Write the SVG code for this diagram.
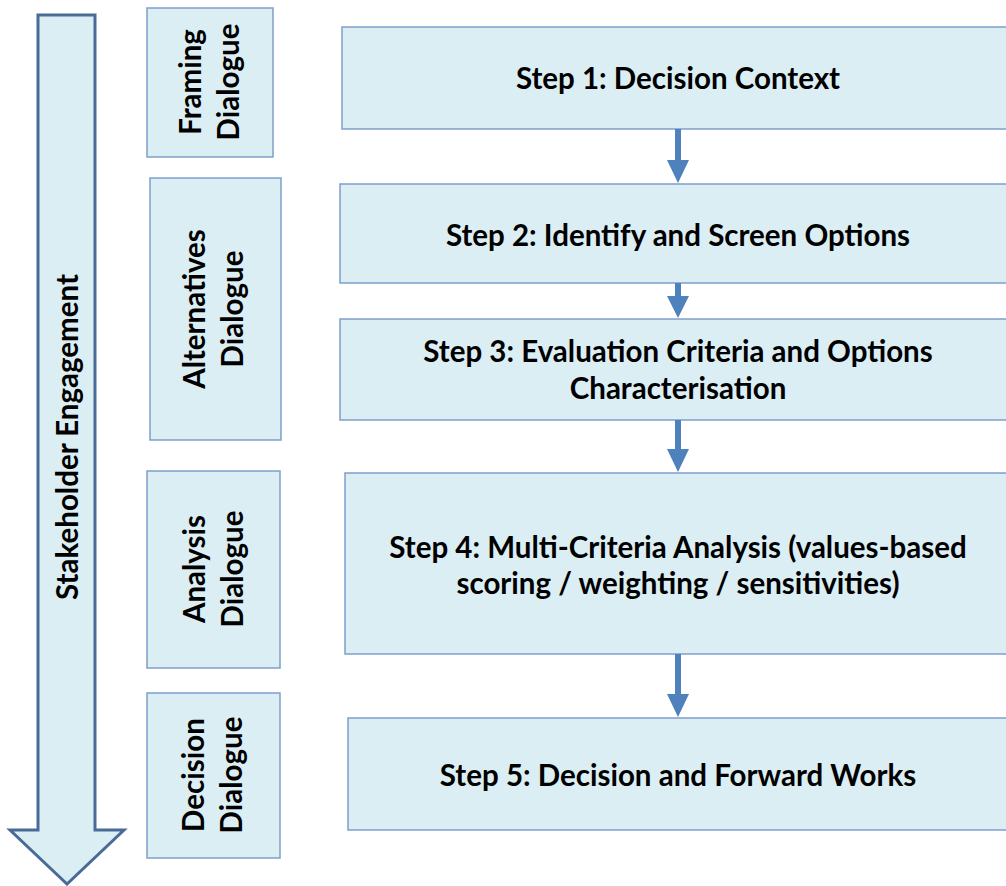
<svg xmlns="http://www.w3.org/2000/svg" width="1006" height="886" viewBox="0 0 1006 886">
<style>
.box{fill:#DBEEF4;stroke:#7F9FCB;stroke-width:1.5}
.big{fill:#DBEEF4;stroke:#4A6A98;stroke-width:3;stroke-linejoin:miter}
.t{font-family:Lato,"Open Sans",sans-serif;font-weight:bold;font-size:29.5px;fill:#000;text-anchor:middle}
.c{stroke:#4F81BD;stroke-width:6;fill:none}
.h{fill:#4F81BD}
</style>
<rect width="1006" height="886" fill="#fff"/>
<g id="engagement">
<path class="big" d="M38,15 L95,15 L95,830 L124,830 L67,884 L10,830 L38,830 Z"/>
<text class="t" transform="translate(78,437) rotate(-90)">Stakeholder Engagement</text>
</g>
<g id="framing">
<rect class="box" x="147" y="8" width="126" height="149"/>
<text class="t" transform="translate(210,82) rotate(-90)"><tspan x="0" y="-9">Framing</tspan><tspan x="0" y="29">Dialogue</tspan></text>
</g>
<g id="alternatives">
<rect class="box" x="150" y="178" width="131" height="262"/>
<text class="t" transform="translate(214,309) rotate(-90)"><tspan x="0" y="-9">Alternatives</tspan><tspan x="0" y="29">Dialogue</tspan></text>
</g>
<g id="analysis">
<rect class="box" x="147" y="471" width="133" height="197"/>
<text class="t" transform="translate(214,569) rotate(-90)"><tspan x="0" y="-9">Analysis</tspan><tspan x="0" y="29">Dialogue</tspan></text>
</g>
<g id="decision">
<rect class="box" x="147" y="693" width="133" height="165"/>
<text class="t" transform="translate(213,775) rotate(-90)"><tspan x="0" y="-9">Decision</tspan><tspan x="0" y="29">Dialogue</tspan></text>
</g>
<g id="step1">
<rect class="box" x="342" y="27" width="680" height="102"/>
<text class="t" x="678" y="89">Step 1: Decision Context</text>
</g>
<g id="step2">
<rect class="box" x="340" y="184" width="680" height="99"/>
<text class="t" x="678" y="246">Step 2: Identify and Screen Options</text>
</g>
<g id="step3">
<rect class="box" x="340" y="319" width="680" height="101"/>
<text class="t" x="678" y="362">Step 3: Evaluation Criteria and Options</text>
<text class="t" x="678" y="399">Characterisation</text>
</g>
<g id="step4">
<rect class="box" x="345" y="473" width="680" height="181"/>
<text class="t" x="678" y="558">Step 4: Multi-Criteria Analysis (values-based</text>
<text class="t" x="678" y="594">scoring / weighting / sensitivities)</text>
</g>
<g id="step5">
<rect class="box" x="348" y="718" width="680" height="112"/>
<text class="t" x="678" y="786">Step 5: Decision and Forward Works</text>
</g>
<g id="connectors">
<line class="c" x1="678" y1="129" x2="678" y2="162"/><path class="h" d="M667,160 L689,160 L678,183 Z"/>
<line class="c" x1="678" y1="283" x2="678" y2="298"/><path class="h" d="M667,296 L689,296 L678,318 Z"/>
<line class="c" x1="678" y1="420" x2="678" y2="451"/><path class="h" d="M667,449 L689,449 L678,472 Z"/>
<line class="c" x1="678" y1="654" x2="678" y2="696"/><path class="h" d="M667,694 L689,694 L678,717 Z"/>
</g>
</svg>
